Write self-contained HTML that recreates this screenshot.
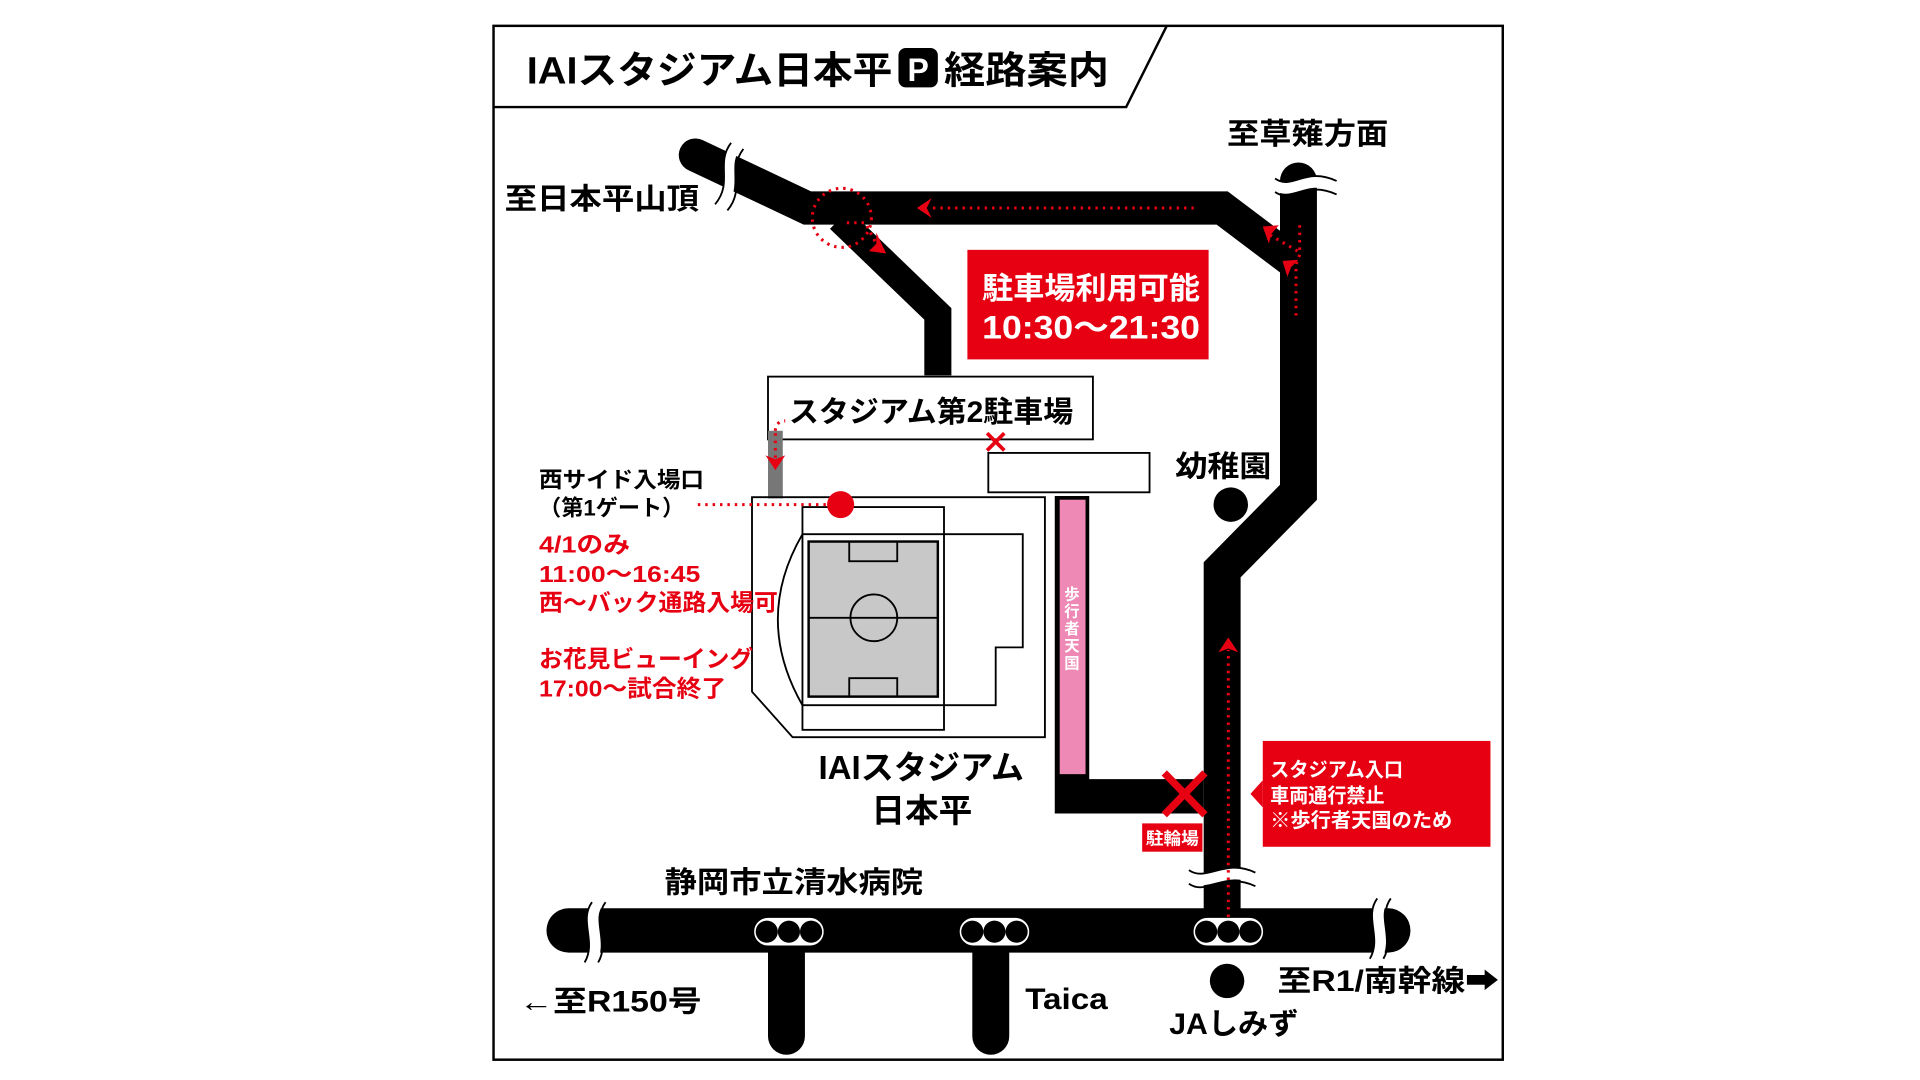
<!DOCTYPE html>
<html><head><meta charset="utf-8"><style>
html,body{margin:0;padding:0;background:#fff;}
svg{display:block;}
text{font-family:"Liberation Sans","Noto Sans CJK JP",sans-serif;font-weight:bold;}
</style></head><body>
<svg width="1920" height="1080" viewBox="0 0 1560 877.5" preserveAspectRatio="none" xmlns="http://www.w3.org/2000/svg">
<rect x="0" y="0" width="1560" height="877.5" fill="#fff"/>
<!-- frame -->
<rect x="401" y="21" width="820" height="840" fill="none" stroke="#000" stroke-width="2"/>
<polyline points="401,87 915,87 948,21" fill="none" stroke="#000" stroke-width="2"/>
<text x="428" y="68" font-size="31" textLength="297" lengthAdjust="spacingAndGlyphs">IAIスタジアム日本平</text>
<rect x="730" y="39" width="32" height="32" rx="6" fill="#000"/>
<text x="746" y="66" font-size="26" fill="#fff" text-anchor="middle">P</text>
<text x="767" y="68" font-size="31" textLength="134" lengthAdjust="spacingAndGlyphs">経路案内</text>

<!-- roads -->
<g fill="none" stroke="#000" stroke-linejoin="miter">
  <polyline points="565,126 656,169 993,169 1050,212" stroke-width="27" stroke-linecap="round"/>
  <polyline points="682,178 762,255 762,305" stroke-width="22"/>
  <polyline points="1055,147 1055,400 993,463 993,745" stroke-width="30" stroke-linecap="round"/>
  <line x1="462" y1="756" x2="1128" y2="756" stroke-width="36" stroke-linecap="round"/>
  <line x1="639" y1="760" x2="639" y2="842" stroke-width="30" stroke-linecap="round"/>
  <line x1="805" y1="760" x2="805" y2="842" stroke-width="30" stroke-linecap="round"/>
</g>
<!-- break marks -->
<g fill="none">
  <path d="M598,118 C585,135 600,150 585,168" stroke="#fff" stroke-width="9"/>
  <path d="M594,116 C581,133 596,148 581,166" stroke="#000" stroke-width="1.5"/>
  <path d="M604,121 C591,138 606,153 591,171" stroke="#000" stroke-width="1.5"/>
  <path d="M1036,150 C1050,160 1060,140 1086,152" stroke="#fff" stroke-width="9"/>
  <path d="M1036,145 C1050,155 1060,135 1086,147" stroke="#000" stroke-width="1.5"/>
  <path d="M1036,156 C1050,166 1060,146 1086,158" stroke="#000" stroke-width="1.5"/>
  <path d="M966,712 C980,722 995,702 1020,714" stroke="#fff" stroke-width="9"/>
  <path d="M966,707 C980,717 995,697 1020,709" stroke="#000" stroke-width="1.5"/>
  <path d="M966,718 C980,728 995,708 1020,720" stroke="#000" stroke-width="1.5"/>
  <path d="M486,733 C475,748 490,765 480,782" stroke="#fff" stroke-width="9"/>
  <path d="M481,733 C470,748 485,765 475,782" stroke="#000" stroke-width="1.5"/>
  <path d="M492,733 C481,748 496,765 486,782" stroke="#000" stroke-width="1.5"/>
  <path d="M1124,730 C1113,745 1128,762 1118,779" stroke="#fff" stroke-width="9"/>
  <path d="M1119,730 C1108,745 1123,762 1113,779" stroke="#000" stroke-width="1.5"/>
  <path d="M1130,730 C1119,745 1134,762 1124,779" stroke="#000" stroke-width="1.5"/>
</g>
<!-- traffic lights -->
<g>
  <rect x="612" y="745" width="58" height="24" rx="12" fill="#fff" stroke="#000" stroke-width="1.5"/>
  <circle cx="623" cy="757" r="9" fill="#000"/><circle cx="641" cy="757" r="9" fill="#000"/><circle cx="659" cy="757" r="9" fill="#000"/>
  <rect x="779" y="745" width="58" height="24" rx="12" fill="#fff" stroke="#000" stroke-width="1.5"/>
  <circle cx="790" cy="757" r="9" fill="#000"/><circle cx="808" cy="757" r="9" fill="#000"/><circle cx="826" cy="757" r="9" fill="#000"/>
  <rect x="969" y="745" width="58" height="24" rx="12" fill="#fff" stroke="#000" stroke-width="1.5"/>
  <circle cx="980" cy="757" r="9" fill="#000"/><circle cx="998" cy="757" r="9" fill="#000"/><circle cx="1016" cy="757" r="9" fill="#000"/>
</g>
<circle cx="1000" cy="410" r="14" fill="#000"/>
<circle cx="997" cy="797" r="14" fill="#000"/>

<!-- walking path -->
<polyline points="871,403 871,647 978,647" fill="none" stroke="#000" stroke-width="28"/>
<rect x="861" y="406" width="21" height="223" fill="#ee88b4"/>
<g font-size="12.5" fill="#fff" text-anchor="middle">
  <text x="871" y="487">歩</text><text x="871" y="501">行</text><text x="871" y="515">者</text><text x="871" y="529">天</text><text x="871" y="543">国</text>
</g>
<!-- red X -->
<g stroke="#e60012" stroke-width="6"><line x1="946" y1="628" x2="979" y2="662"/><line x1="979" y1="628" x2="946" y2="662"/></g>
<rect x="928" y="669" width="49" height="23" fill="#e60012"/>
<text x="931" y="686" font-size="14" fill="#fff" textLength="43" lengthAdjust="spacingAndGlyphs">駐輪場</text>

<!-- red boxes -->
<rect x="1026" y="602" width="185" height="86" fill="#e60012"/>
<polygon points="1026,634 1016,645 1026,656" fill="#e60012"/>
<g font-size="16" fill="#fff">
  <text x="1032" y="631" textLength="108" lengthAdjust="spacingAndGlyphs">スタジアム入口</text>
  <text x="1032" y="652" textLength="93" lengthAdjust="spacingAndGlyphs">車両通行禁止</text>
  <text x="1032" y="672" textLength="148" lengthAdjust="spacingAndGlyphs">※歩行者天国のため</text>
</g>
<rect x="786" y="203" width="196" height="89" fill="#e60012"/>
<text x="798" y="243" font-size="25" fill="#fff" textLength="177" lengthAdjust="spacingAndGlyphs">駐車場利用可能</text>
<text x="798" y="275" font-size="26" fill="#fff" textLength="177" lengthAdjust="spacingAndGlyphs">10:30〜21:30</text>

<!-- parking -->
<rect x="624" y="306" width="264" height="51" fill="#fff" stroke="#000" stroke-width="1.5"/>
<text x="641" y="343" font-size="24" textLength="231" lengthAdjust="spacingAndGlyphs">スタジアム第2駐車場</text>
<rect x="803" y="368" width="131" height="32" fill="#fff" stroke="#000" stroke-width="1.5"/>
<g stroke="#e60012" stroke-width="3"><line x1="802" y1="352" x2="816" y2="366"/><line x1="816" y1="352" x2="802" y2="366"/></g>
<rect x="624" y="350" width="12" height="55" fill="#777"/>

<!-- stadium -->
<g fill="none" stroke="#000" stroke-width="1.5">
  <polygon points="611,404 849,404 849,599 644,599 611,562"/>
  <rect x="652" y="412" width="115" height="181"/>
  <polyline points="652,434 831,434 831,526 809,526 809,573 652,573"/>
  <path d="M652,434 Q612,503 652,573"/>
</g>
<rect x="657" y="440" width="105" height="126" fill="#c8c8c8" stroke="#000" stroke-width="2"/>
<g fill="none" stroke="#000" stroke-width="1.5">
  <line x1="657" y1="502" x2="762" y2="502"/>
  <circle cx="710" cy="502" r="19"/>
  <rect x="690" y="440" width="39" height="16"/>
  <rect x="690" y="551" width="39" height="15"/>
</g>
<circle cx="683" cy="410" r="11" fill="#e60012"/>

<!-- dotted red routes -->
<g fill="none" stroke="#e60012" stroke-width="2.5" stroke-dasharray="2 4">
  <line x1="567" y1="410" x2="672" y2="410"/>
  <path d="M630,350 C630,344 634,342 638,342"/>
  <line x1="630" y1="352" x2="630" y2="372"/>
  <line x1="970" y1="169" x2="755" y2="169"/>
  <circle cx="684" cy="177" r="24"/>
  <polyline points="688,181 703,181 712,198"/>
  <polyline points="1056,183 1056,205 1032,191"/>
  <polyline points="1056,207 1053,215 1053,258"/>
  <line x1="998" y1="745" x2="998" y2="528"/>
</g>
<g fill="#e60012">
  <polygon points="745,169 757,161 753,169 757,177"/>
  <polygon points="720,206 706,204 712,198 712,189"/>
  <polygon points="1026,184 1039,183 1033,190 1031,198"/>
  <polygon points="1042,212 1055,211 1049,217 1046,225"/>
  <polygon points="998,518 990,530 998,527 1006,530"/>
  <polygon points="630,382 622,370 630,373 638,370"/>
</g>

<!-- labels -->
<g font-size="24">
  <text x="410" y="170" textLength="158" lengthAdjust="spacingAndGlyphs">至日本平山頂</text>
  <text x="997" y="117" textLength="131" lengthAdjust="spacingAndGlyphs">至草薙方面</text>
  <text x="955" y="387" textLength="78" lengthAdjust="spacingAndGlyphs">幼稚園</text>
  <text x="665" y="633" font-size="27" textLength="167" lengthAdjust="spacingAndGlyphs">IAIスタジアム</text>
  <text x="708" y="668" font-size="27" textLength="82" lengthAdjust="spacingAndGlyphs">日本平</text>
  <text x="540" y="725" textLength="210" lengthAdjust="spacingAndGlyphs">静岡市立清水病院</text>
  <text x="422" y="822" textLength="148" lengthAdjust="spacingAndGlyphs">←至R150号</text>
  <text x="833" y="820" textLength="67" lengthAdjust="spacingAndGlyphs">Taica</text>
  <text x="950" y="840" textLength="105" lengthAdjust="spacingAndGlyphs">JAしみず</text>
  <text x="1038" y="805" textLength="180" lengthAdjust="spacingAndGlyphs">至R1/南幹線➡</text>
</g>
<g font-size="18">
  <text x="438" y="396" textLength="134" lengthAdjust="spacingAndGlyphs">西サイド入場口</text>
  <text x="438" y="419" textLength="118" lengthAdjust="spacingAndGlyphs">（第1ゲート）</text>
</g>
<g font-size="19" fill="#e60012">
  <text x="438" y="449" textLength="74" lengthAdjust="spacingAndGlyphs">4/1のみ</text>
  <text x="438" y="473" textLength="131" lengthAdjust="spacingAndGlyphs">11:00〜16:45</text>
  <text x="438" y="496" textLength="194" lengthAdjust="spacingAndGlyphs">西〜バック通路入場可</text>
  <text x="438" y="542" textLength="174" lengthAdjust="spacingAndGlyphs">お花見ビューイング</text>
  <text x="438" y="566" textLength="152" lengthAdjust="spacingAndGlyphs">17:00〜試合終了</text>
</g>
</svg>
</body></html>
